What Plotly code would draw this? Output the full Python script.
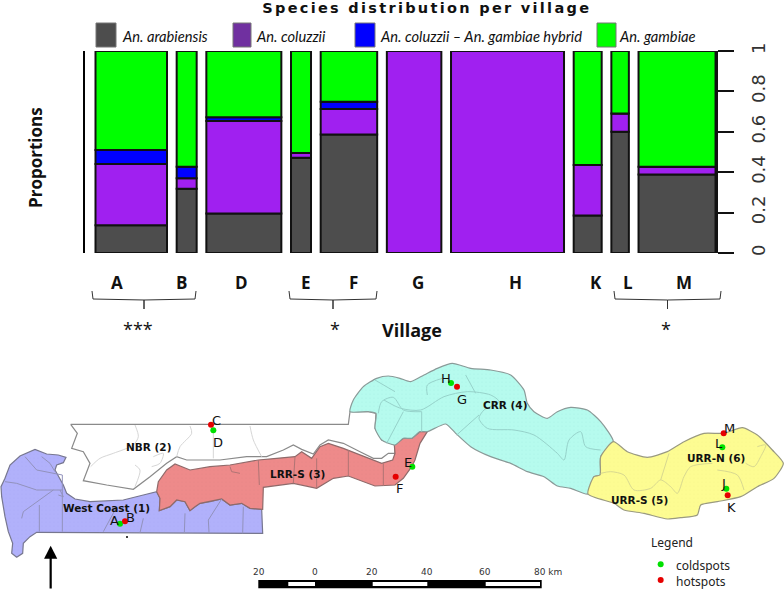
import plotly.graph_objects as go

# ---------- mosaic data ----------
villages = ["A", "B", "D", "E", "F", "G", "H", "K", "L", "M"]
village_widths = [71.5, 20, 75, 20, 56.5, 54.5, 113, 28, 17.5, 77]
arabiensis = [0.137, 0.318, 0.195, 0.472, 0.587, 0, 0, 0.186, 0.60, 0.388]
coluzzii = [0.303, 0.052, 0.458, 0.023, 0.126, 1, 1, 0.25, 0.091, 0.039]
hybrid = [0.07, 0.057, 0.019, 0, 0.036, 0, 0, 0, 0, 0]
gambiae = [0.49, 0.573, 0.328, 0.505, 0.251, 0, 0, 0.564, 0.309, 0.573]
species_names = ["An. arabiensis", "An. coluzzii", "An. coluzzii \u2013 An. gambiae hybrid", "An. gambiae"]
y_ticks = [0, 0.2, 0.4, 0.6, 0.8, 1]
y_tick_labels = ["0", "0.2", "0.4", "0.6", "0.8", "1"]

# ---------- map data (map units) ----------
west_coast = [(50,622),(35,610),(38,580),(25,545),(15,500),(5,440),(3,410),(15,385),(30,345),(60,318),(105,298),(125,305),(140,312),(175,315),(198,322),(190,338),(170,345),(165,360),(180,385),(190,405),(200,430),(225,447),(270,455),(330,452),(370,450),(430,435),(470,425),(480,445),(478,482),(510,470),(530,450),(555,455),(570,482),(585,470),(600,460),(630,455),(665,447),(690,465),(725,460),(750,475),(785,478),(788,550),(110,547),(90,560),(70,580),(68,610)]
lrr_s = [(470,425),(475,395),(500,360),(525,342),(570,360),(630,350),(690,345),(775,330),(830,325),(885,320),(905,305),(935,325),(960,290),(985,280),(1030,295),(1080,315),(1120,330),(1145,340),(1178,330),(1185,310),(1183,285),(1195,275),(1210,265),(1235,265),(1260,245),(1282,245),(1260,280),(1245,330),(1235,350),(1210,385),(1185,405),(1125,408),(1090,395),(1045,378),(1000,385),(950,415),(880,400),(790,412),(788,478),(750,475),(725,460),(690,465),(665,447),(630,455),(600,460),(585,470),(570,482),(555,455),(530,450),(510,470),(478,482),(480,445)]
nbr = [(212,223),(1045,223),(1050,185),(1105,185),(1128,190),(1125,235),(1145,270),(1185,285),(1185,310),(1165,310),(1145,325),(1120,325),(1080,305),(1030,280),(985,270),(960,285),(940,312),(905,298),(880,285),(850,300),(800,320),(740,320),(660,330),(610,330),(560,330),(530,320),(500,340),(450,380),(400,418),(320,405),(250,392),(270,340),(250,305),(215,295),(232,250)]
crr = [(1050,185),(1060,150),(1090,110),(1130,85),(1165,78),(1200,85),(1232,95),(1272,75),(1312,55),(1357,40),(1412,55),(1472,60),(1532,75),(1572,120),(1582,160),(1602,185),(1642,205),(1672,185),(1712,172),(1762,180),(1802,215),(1840,275),(1802,320),(1800,375),(1782,380),(1764,432),(1712,415),(1672,408),(1632,380),(1582,365),(1532,340),(1472,320),(1412,290),(1367,250),(1337,222),(1282,245),(1260,245),(1235,265),(1210,265),(1185,285),(1145,270),(1125,235),(1128,190),(1105,185)]
urr = [(1840,275),(1882,305),(1942,322),(2002,305),(2052,275),(2112,250),(2172,250),(2227,233),(2272,255),(2317,300),(2350,340),(2322,385),(2272,410),(2222,440),(2152,455),(2102,465),(2092,495),(2042,503),(2002,507),(1932,490),(1872,480),(1842,460),(1764,432),(1782,380),(1800,375),(1802,320)]
blue_lines = [[(75,320),(110,360),(187,375)],[(15,395),(50,400),(110,420),(187,420)],[(65,505),(70,485),(160,420)],[(187,375),(187,545)],[(118,465),(118,545)],[(310,545),(335,500),(345,480)],[(430,505),(420,548)],[(555,490),(553,548)],[(665,447),(625,510),(627,548)],[(730,470),(728,550)],[(125,320),(150,340),(165,365)],[(175,435),(190,440),(180,420)]]
red_lines = [[(775,330),(778,405)],[(885,320),(880,400)],[(950,325),(950,415)],[(1045,300),(1045,378)],[(1150,340),(1150,408)],[(690,350),(695,365),(720,370)]]
nbr_lines = [[(405,225),(415,260),(400,285),(340,310),(300,325),(272,350)],[(570,228),(575,250),(540,290),(530,320)],[(640,235),(640,325)],[(750,228),(760,270),(785,320)],[(405,345),(420,360),(405,410)],[(460,320),(490,310),(480,340),(455,350)]]
crr_lines = [[(1125,90),(1185,125)],[(1135,190),(1145,155),(1180,142),(1210,180),(1265,185)],[(1265,185),(1265,245)],[(1210,185),(1160,280)],[(1152,150),(1202,175),(1262,180),(1332,140),(1402,125),(1472,135),(1497,155),(1452,180),(1437,205),(1462,235),(1542,240),(1602,255),(1672,310),(1692,330),(1707,270),(1742,245),(1757,290),(1802,300)],[(1437,195),(1370,255)],[(1397,75),(1427,130)],[(1282,135),(1282,105),(1327,85)]]
urr_lines = [[(1802,370),(1832,365),(1872,375),(1902,420),(1952,415),(1982,390),(2012,410),(2032,430),(2052,380),(2072,350),(2137,340)],[(2007,310),(1982,390)],[(2152,360),(2212,375),(2232,420)],[(2272,290),(2297,285),(2282,320),(2262,350),(2237,340)]]
coldspot_x = [360, 640, 1237, 1353, 2167, 2179]
coldspot_y = [521, 241, 350, 99, 292, 416]
hotspot_x = [375, 633, 1187, 1371, 2171, 2183]
hotspot_y = [514, 224, 380, 110, 250, 436]
site_labels = ["A", "B", "C", "D", "E", "F", "H", "G", "M", "L", "J", "K"]
site_label_x = [343, 390, 648, 653, 1225, 1198, 1338, 1385, 2188, 2156, 2170, 2195]
site_label_y = [510, 502, 210, 278, 337, 415, 85, 147, 236, 280, 400, 472]
region_labels = ["West Coast (1)", "NBR (2)", "LRR-S (3)", "CRR (4)", "URR-N (6)", "URR-S (5)"]
region_x = [320, 445, 891, 1515, 2147, 1919]
region_y = [475, 290, 371, 165, 323, 449]
scale_labels = ["20", "0", "20", "40", "60", "80 km"]
scale_x = [778, 945, 1115, 1282, 1454, 1644]

W, H = 784, 590
GAP = 9.67
lefts, pos = [], 0.0
for w in village_widths:
    lefts.append(pos)
    pos += w + GAP
centers = [l + w / 2 for l, w in zip(lefts, village_widths)]

fig = go.Figure()
base = [0.0] * len(villages)
bar_colors = ["#4d4d4d", "#a020f0", "#0000ff", "#00ff00"]
for name, vals, col in zip(species_names, [arabiensis, coluzzii, hybrid, gambiae], bar_colors):
    fig.add_trace(go.Bar(x=centers, y=vals, base=list(base), width=village_widths, name=name,
                         marker=dict(color=col, line=dict(color="#111111", width=2)), xaxis="x", yaxis="y"))
    base = [b + v for b, v in zip(base, vals)]


def poly(pts, fill, line, pattern, smooth=False):
    ln = dict(color=line, width=1.2)
    if smooth:
        ln.update(shape="spline", smoothing=0.6)
    fig.add_trace(go.Scatter(x=[p[0] for p in pts] + [pts[0][0]], y=[p[1] for p in pts] + [pts[0][1]],
                             mode="lines", fill="toself", fillcolor=fill,
                             fillpattern=dict(shape=".", size=4, solidity=0.06, fgcolor=pattern, bgcolor=fill),
                             line=ln, xaxis="x2", yaxis="y2", hoverinfo="skip"))


def lines(groups, color, smooth=False):
    for g in groups:
        ln = dict(color=color, width=1)
        if smooth:
            ln.update(shape="spline", smoothing=0.8)
        fig.add_trace(go.Scatter(x=[p[0] for p in g], y=[p[1] for p in g], mode="lines",
                                 line=ln, xaxis="x2", yaxis="y2", hoverinfo="skip"))


poly(nbr, "#ffffff", "#8a8a8a", "#ffffff")
poly(west_coast, "#b1b1fb", "#77778f", "#a0a0ee")
poly(lrr_s, "#ee8a8a", "#8f6a6a", "#d87a7a")
poly(crr, "#b6fbee", "#8a9a98", "#98e0d4", True)
poly(urr, "#fdfc92", "#9a9a80", "#f0f080", True)
lines(nbr_lines, "#d6d6d6", True)
lines(blue_lines, "#9292bc")
lines(red_lines, "#b07474")
lines(crr_lines, "#96d2ca", True)
lines(urr_lines, "#d8d890", True)

fig.add_trace(go.Scatter(x=coldspot_x, y=coldspot_y, mode="markers", name="coldspots",
                         marker=dict(color="#00e000", size=6), xaxis="x2", yaxis="y2"))
fig.add_trace(go.Scatter(x=hotspot_x, y=hotspot_y, mode="markers", name="hotspots",
                         marker=dict(color="#e60000", size=6), xaxis="x2", yaxis="y2"))
fig.add_trace(go.Scatter(x=[1982, 1982], y=[643, 690], mode="markers",
                         marker=dict(color=["#00e000", "#e60000"], size=6), xaxis="x2", yaxis="y2"))
fig.add_trace(go.Scatter(x=[381], y=[561], mode="markers", marker=dict(color="black", size=2),
                         xaxis="x2", yaxis="y2"))


def px_x(x):
    return x / W


def px_y(y):
    return 1 - y / H


ann = []


def text(x, y, s, size=12, bold=False, family="Open Sans", anchor="center", color="#111111", italic=False, angle=0):
    if bold:
        s = "<b>" + s + "</b>"
    if italic:
        s = "<i>" + s + "</i>"
    ann.append(dict(x=x * 3, y=(y - 350) * 3, xref="x2", yref="y2", text=s, showarrow=False,
                    xanchor=anchor, yanchor="middle", textangle=angle,
                    font=dict(size=size, family=family, color=color)))


def mtext(x, y, s, size, bold=False, family="DejaVu Sans", color="#111111"):
    text(x / 3, 350 + y / 3, s, size, bold, family, "center", color)


text(427, 8, "Species distribution per village", 14.5, True, "DejaVu Sans")
text(35, 158, "Proportions", 17, True, "Open Sans", angle=-90)
text(412, 330, "Village", 18, True, "Open Sans")
for s, x in zip(villages, [117, 181, 241, 306, 353, 418, 515, 596, 628, 684]):
    text(x, 282, s, 17, True, "Open Sans")
for x, s in [(138, "***"), (335, "*"), (666, "*")]:
    text(x, 329, s, 18, False, "Open Sans")

legend_x = [(96, 116, 120), (233, 251, 254), (355, 375, 378), (597, 616, 617)]
legend_colors = ["#4d4d4d", "#7030a0", "#0000ff", "#00ff00"]
shapes = []
for (x0, x1, tx), name, col in zip(legend_x, species_names, legend_colors):
    shapes.append(dict(type="rect", xref="paper", yref="paper", x0=px_x(x0), x1=px_x(x1), y0=px_y(47), y1=px_y(23),
                       fillcolor=col, line=dict(color="#777777", width=1)))
    text(tx, 36, name, 14.7, False, "Lato", "left", italic=True)

shapes.append(dict(type="line", xref="paper", yref="paper", x0=px_x(84), x1=px_x(84), y0=px_y(51), y1=px_y(253),
                   line=dict(color="black", width=2)))
for x0, x1 in [(92, 196), (289, 377), (614, 721)]:
    m = (x0 + x1) / 2
    shapes.append(dict(type="path", xref="paper", yref="paper",
                       path=f"M {px_x(x0)} {px_y(291)} L {px_x(x0+1)} {px_y(299)} L {px_x(m)} {px_y(300)} L {px_x(m)} {px_y(309)} "
                            f"L {px_x(m)} {px_y(300)} L {px_x(x1-1)} {px_y(299)} L {px_x(x1)} {px_y(291)}",
                       line=dict(color="#333333", width=1)))
# scale bar
shapes.append(dict(type="rect", xref="paper", yref="paper", x0=px_x(258.3), x1=px_x(541.7), y0=px_y(588.3), y1=px_y(580),
                   fillcolor="black", line=dict(width=0)))
for a, b in [(288.3, 315), (372.7, 427.3), (485.7, 540)]:
    shapes.append(dict(type="rect", xref="paper", yref="paper", x0=px_x(a), x1=px_x(b), y0=px_y(586), y1=px_y(582),
                       fillcolor="white", line=dict(width=0)))
for s, x in zip(scale_labels, scale_x):
    mtext(x, 665, s, 9, False, "DejaVu Sans", "#333333")
for s, x, y in zip(site_labels, site_label_x, site_label_y):
    mtext(x, y, s, 13, False, "DejaVu Sans")
for s, x, y in zip(region_labels, region_x, region_y):
    mtext(x, y, s, 10.5, True, "DejaVu Sans")
text(672.3, 542.7, "Legend", 12, False, "Noto Sans", color="#222222")
text(673.5, 565, "coldspots", 12, False, "Noto Sans", "left", "#222222")
text(673.5, 581, "hotspots", 12, False, "Noto Sans", "left", "#222222")

ann.append(dict(x=152, y=587, xref="x2", yref="y2", ax=152, ay=720, axref="x2", ayref="y2", text="",
                showarrow=True, arrowhead=2, arrowsize=1.2, arrowwidth=2.2, arrowcolor="black"))

fig.update_layout(
    width=W, height=H, margin=dict(l=0, r=0, t=0, b=0, autoexpand=False), autosize=False,
    paper_bgcolor="white", plot_bgcolor="rgba(0,0,0,0)", showlegend=False, barmode="overlay",
    xaxis=dict(domain=[0, 1], range=[-95.5, 688.5], visible=False),
    yaxis=dict(domain=[1 - 253 / H, 1 - 51 / H], range=[0, 1], side="right", anchor="free", position=717 / W,
               tickvals=y_ticks, ticktext=y_tick_labels, ticks="outside", ticklen=16, tickwidth=1.5,
               tickcolor="#111111", showline=True, linecolor="#111111", linewidth=1.5, showgrid=False,
               zeroline=False, tickangle=-90, ticklabelstandoff=10,
               tickfont=dict(size=18, family="DejaVu Sans", color="#333333")),
    xaxis2=dict(domain=[0, 1], range=[0, 2352], visible=False, anchor="y2"),
    yaxis2=dict(domain=[0, 1], range=[720, -1050], visible=False, anchor="x2"),
    shapes=shapes, annotations=ann, font=dict(family="Open Sans"),
)
post = """
document.body.style.margin='0';document.body.style.overflow='hidden';
document.querySelectorAll('.annotation-text').forEach(function(t){
  if(t.textContent.indexOf('Species distribution')===0){t.style.letterSpacing='2.3px';}
});
"""
fig.write_html("out.html", post_script=post, config={"displayModeBar": False})
